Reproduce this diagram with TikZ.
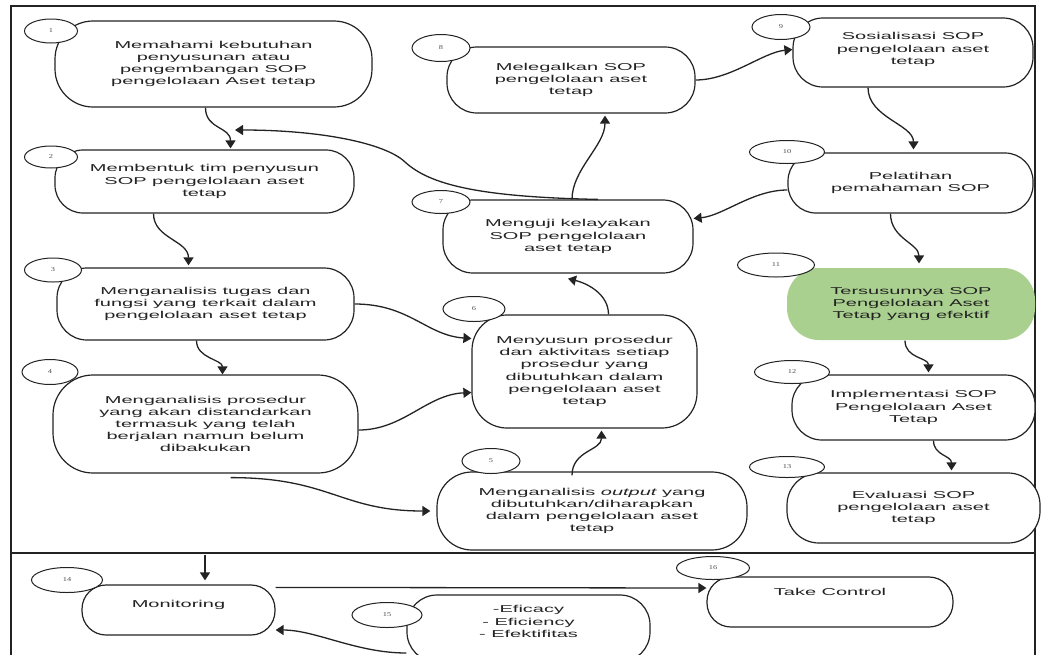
\documentclass[tikz,border=0pt]{standalone}
\usepackage{fontspec}
\setmainfont{Liberation Sans}
\newfontfamily\boxfont[FakeStretch=2.0]{Liberation Sans}
\newfontfamily\numfont[FakeStretch=1.4]{Liberation Serif}
\usetikzlibrary{arrows.meta,shapes.geometric}

\definecolor{ink}{RGB}{35,35,35}
\definecolor{goalgreen}{RGB}{169,208,142}

\tikzset{
  frameline/.style={draw=ink, line width=1.5pt},
  stepbox/.style={draw=ink, line width=1.2pt, fill=white, align=center, inner sep=0pt,
    text=ink, font={\boxfont\fontsize{10}{12.2}\selectfont}},
  goalbox/.style={stepbox, draw=none, fill=goalgreen},
  numtag/.style={ellipse, draw=ink, line width=1pt, fill=white, inner sep=0pt,
    text=ink!80, font={\numfont\fontsize{6}{7}\selectfont}},
  flow/.style={draw=ink, line width=1.3pt, -{Triangle[width=10pt,length=8pt]}},
}

\begin{document}
\begin{tikzpicture}[x=1pt,y=-1pt]
\useasboundingbox (0,0) rectangle (1043,654);
\clip (0,0) rectangle (1043,654);

% outer frame and the divider of the lower band
\draw[frameline] (11,670) -- (11,6) -- (1035,6) -- (1035,670);
\draw[frameline] (11,553) -- (1035,553);

% process steps
\node[stepbox, minimum width=317pt, minimum height=86pt, rounded corners=38pt] (n1) at (213.5,64)
  {Memahami kebutuhan\\penyusunan atau\\pengembangan SOP\\pengelolaan Aset tetap};
\node[stepbox, minimum width=299pt, minimum height=63pt, rounded corners=28pt] (n2) at (204.5,181.5)
  {Membentuk tim penyusun\\SOP pengelolaan aset\\tetap};
\node[stepbox, minimum width=297pt, minimum height=72pt, rounded corners=30pt] (n3) at (205.5,304)
  {Menganalisis tugas dan\\fungsi yang terkait dalam\\pengelolaan aset tetap};
\node[stepbox, minimum width=305pt, minimum height=98pt, rounded corners=40pt] (n4) at (205.5,424)
  {Menganalisis prosedur\\yang akan distandarkan\\termasuk yang telah\\berjalan namun belum\\dibakukan};
\node[stepbox, minimum width=310pt, minimum height=78pt, rounded corners=35pt] (n5) at (592,511)
  {Menganalisis {\itshape output} yang\\dibutuhkan/diharapkan\\dalam pengelolaan aset\\tetap};
\node[stepbox, minimum width=225pt, minimum height=113pt, rounded corners=35pt] (n6) at (584.5,371.5)
  {Menyusun prosedur\\dan aktivitas setiap\\prosedur yang\\dibutuhkan dalam\\pengelolaan aset\\tetap};
\node[stepbox, minimum width=250pt, minimum height=73pt, rounded corners=30pt] (n7) at (568,236.5)
  {Menguji kelayakan\\SOP pengelolaan\\aset tetap};
\node[stepbox, minimum width=248pt, minimum height=66pt, rounded corners=30pt] (n8) at (571,80)
  {Melegalkan SOP\\pengelolaan aset\\tetap};
\node[stepbox, minimum width=240pt, minimum height=69pt, rounded corners=30pt, text depth=8pt] (n9) at (913,52.5)
  {Sosialisasi SOP\\pengelolaan aset\\tetap};
\node[stepbox, minimum width=245pt, minimum height=60pt, rounded corners=28pt] (n10) at (910.5,183)
  {Pelatihan\\pemahaman SOP};
\node[goalbox, minimum width=248pt, minimum height=72pt, rounded corners=32pt] (n11) at (911,304)
  {Tersusunnya SOP\\Pengelolaan Aset\\Tetap yang efektif};
\node[stepbox, minimum width=243pt, minimum height=65pt, rounded corners=30pt] (n12) at (913.5,407.5)
  {Implementasi SOP\\Pengelolaan Aset\\Tetap};
\node[stepbox, minimum width=253pt, minimum height=70pt, rounded corners=32pt] (n13) at (913.5,508)
  {Evaluasi SOP\\pengelolaan aset\\tetap};

% control band
\node[stepbox, minimum width=193pt, minimum height=50pt, rounded corners=24pt, text depth=13pt] (n14) at (178.5,610)
  {Monitoring};
\node[stepbox, minimum width=243pt, minimum height=67pt, rounded corners=30pt, text depth=14pt] (n15) at (528.5,628.5)
  {-Eficacy\\- Eficiency\\- Efektifitas};
\node[stepbox, minimum width=246pt, minimum height=50pt, rounded corners=24pt, text depth=20pt] (n16) at (830,602)
  {Take Control};

% step numbers
\node[numtag, minimum width=53pt, minimum height=24pt] (c1) at (51,31) {1};
\node[numtag, minimum width=53pt, minimum height=22pt] (c2) at (51,157) {2};
\node[numtag, minimum width=57pt, minimum height=24pt] (c3) at (53,270) {3};
\node[numtag, minimum width=56pt, minimum height=25pt] (c4) at (50,372) {4};
\node[numtag, minimum width=58pt, minimum height=25pt] (c5) at (491,461) {5};
\node[numtag, minimum width=62pt, minimum height=25pt] (c6) at (474,309) {6};
\node[numtag, minimum width=58pt, minimum height=23pt] (c7) at (441,202) {7};
\node[numtag, minimum width=58pt, minimum height=27pt] (c8) at (441,48) {8};
\node[numtag, minimum width=58pt, minimum height=25pt] (c9) at (781,27) {9};
\node[numtag, minimum width=75pt, minimum height=23pt] (c10) at (787,152) {10};
\node[numtag, minimum width=77pt, minimum height=24pt] (c11) at (776,265) {11};
\node[numtag, minimum width=75pt, minimum height=23pt] (c12) at (792,372) {12};
\node[numtag, minimum width=75pt, minimum height=21pt] (c13) at (787,467) {13};
\node[numtag, minimum width=71pt, minimum height=25pt] (c14) at (67,580) {14};
\node[numtag, minimum width=70pt, minimum height=25pt] (c15) at (387,615) {15};
\node[numtag, minimum width=73pt, minimum height=23pt] (c16) at (713,568) {16};

% free ends
\coordinate (join) at (235,130);
\coordinate (drop) at (205,555);

% connectors of the upper band
\draw[flow] ([xshift=-8pt]n1.south) .. controls +(0,22) and +(0,-22) .. ([xshift=26pt,yshift=1pt]n2.north);
\draw[flow] ([xshift=30pt]n7.north) .. controls (480,197) and (430,185) .. (405,162)
  .. controls (385,143) and (320,130) .. (join);
\draw[flow] ([xshift=4pt]n7.north) .. controls +(0,-30) and +(0,30) .. ([xshift=34pt,yshift=-2pt]n8.south);
\draw[flow] (n8.east) .. controls +(35,0) and +(-30,3) .. ([yshift=3pt]n9.west);
\draw[flow] ([xshift=-45pt]n9.south) .. controls +(0,30) and +(0,-25) .. ([xshift=3pt,yshift=3pt]n10.north);
\draw[flow] ([yshift=-7pt]n10.west) .. controls +(-35,0) and +(30,-3) .. ([yshift=18pt]n7.east);
\draw[flow] ([xshift=-20pt]n10.south) .. controls +(0,25) and +(0,-20) .. ([xshift=8pt,yshift=4pt]n11.north);
\draw[flow] ([xshift=-6pt]n11.south) .. controls +(0,18) and +(0,-15) .. ([xshift=15pt,yshift=2pt]n12.north);
\draw[flow] ([xshift=20pt]n12.south) .. controls +(0,15) and +(0,-15) .. ([xshift=38pt,yshift=2pt]n13.north);
\draw[flow] ([xshift=-51pt]n2.south) .. controls +(0,25) and +(0,-25) .. ([xshift=-17pt,yshift=2pt]n3.north);
\draw[flow] ([xshift=-9pt]n3.south) .. controls +(0,18) and +(0,-15) .. ([xshift=17pt]n4.north);
\draw[flow] (n3.east) .. controls +(55,0) and +(-45,-3) .. ([yshift=33pt]n6.west);
\draw[flow] ([yshift=-6pt]n4.east) .. controls +(45,0) and +(-45,2) .. ([yshift=-21pt]n6.west);
\draw[flow] ([xshift=25pt,yshift=-4pt]n4.south) .. controls +(100,0) and +(-90,0) .. ([xshift=-6pt]n5.west);
\draw[flow] ([xshift=-20pt,yshift=-4pt]n5.north) .. controls +(0,-25) and +(0,20) .. ([xshift=17pt,yshift=-2pt]n6.south);
\draw[flow] ([xshift=24pt]n6.north) .. controls +(0,-20) and +(20,5) .. ([yshift=-5pt]n7.south);

% connectors of the control band
\draw[flow] (drop) -- ([xshift=26.5pt,yshift=4pt]n14.north);
\draw[flow] ([yshift=-3pt]n14.north east) -- ([yshift=14pt]n16.west);
\draw[flow] ([yshift=-24.5pt]n15.west) .. controls +(-50,0) and +(40,0) .. ([yshift=-20pt]n14.east);
\end{tikzpicture}
\end{document}
